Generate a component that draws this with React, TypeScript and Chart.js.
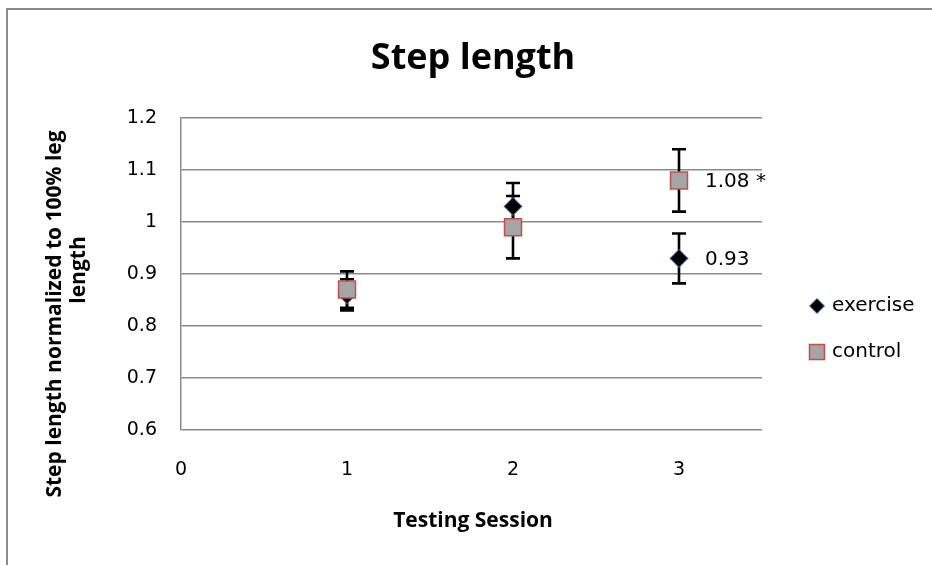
import React, { useEffect, useRef } from "react";
import { Chart, registerables } from "chart.js";

Chart.register(...registerables);

const chartTitle = "Step length";
const xAxisTitle = "Testing Session";
const yAxisTitleLines = ["Step length normalized to 100% leg", "length"];
const seriesNames = ["exercise", "control"];
const sessions = [1, 2, 3];
const exerciseMeans = [0.86, 1.03, 0.93];
const exerciseErrors = [0.03, 0.045, 0.048];
const controlMeans = [0.87, 0.99, 1.08];
const controlErrors = [0.035, 0.06, 0.06];
const exerciseLabels = ["", "", "0.93"];
const controlLabels = ["", "", "1.08 *"];
const xTicks = [0, 1, 2, 3];
const yTicks = [0.6, 0.7, 0.8, 0.9, 1, 1.1, 1.2];

const W = 932;
const H = 565;
const GRID = "#8a8a8a";
const TICK_FONT = "DejaVu Sans";
const BOLD_FONT = "Open Sans";

function drawDiamond(ctx: CanvasRenderingContext2D, x: number, y: number, r: number) {
  ctx.beginPath();
  ctx.moveTo(x, y - r);
  ctx.lineTo(x + r, y);
  ctx.lineTo(x, y + r);
  ctx.lineTo(x - r, y);
  ctx.closePath();
  ctx.fillStyle = "#000";
  ctx.fill();
  ctx.strokeStyle = "#4a7ebb";
  ctx.lineWidth = 1;
  ctx.stroke();
}

function drawSquare(ctx: CanvasRenderingContext2D, x: number, y: number, s: number) {
  ctx.fillStyle = "#a5a5a5";
  ctx.fillRect(x - s / 2, y - s / 2, s, s);
  ctx.strokeStyle = "#c0504d";
  ctx.lineWidth = 1.5;
  ctx.strokeRect(x - s / 2, y - s / 2, s, s);
}

const overlay = {
  id: "overlay",
  beforeDraw(chart: any) {
    const ctx = chart.ctx as CanvasRenderingContext2D;
    ctx.save();
    ctx.fillStyle = "#fff";
    ctx.fillRect(0, 0, W, H);
    ctx.strokeStyle = GRID;
    ctx.lineWidth = 2;
    ctx.beginPath();
    ctx.moveTo(7, H);
    ctx.lineTo(7, 9);
    ctx.lineTo(W, 9);
    ctx.stroke();
    ctx.restore();
  },
  beforeDatasetsDraw(chart: any) {
    const ctx = chart.ctx as CanvasRenderingContext2D;
    const yScale = chart.scales.y;
    chart.data.datasets.forEach((ds: any, di: number) => {
      const meta = chart.getDatasetMeta(di);
      meta.data.forEach((pt: any, i: number) => {
        const v = ds.data[i].y;
        const e = ds.errors[i];
        const top = yScale.getPixelForValue(v + e);
        const bot = yScale.getPixelForValue(v - e);
        ctx.save();
        ctx.strokeStyle = "#000";
        ctx.lineWidth = 2.6;
        ctx.beginPath();
        ctx.moveTo(pt.x, top);
        ctx.lineTo(pt.x, bot);
        ctx.moveTo(pt.x - 7, top);
        ctx.lineTo(pt.x + 7, top);
        ctx.moveTo(pt.x - 7, bot);
        ctx.lineTo(pt.x + 7, bot);
        ctx.stroke();
        ctx.restore();
      });
    });
  },
  afterDatasetsDraw(chart: any) {
    const ctx = chart.ctx as CanvasRenderingContext2D;
    ctx.save();
    // data labels
    ctx.fillStyle = "#000";
    ctx.font = `20px "${TICK_FONT}"`;
    ctx.textAlign = "left";
    ctx.textBaseline = "middle";
    chart.data.datasets.forEach((ds: any, di: number) => {
      const meta = chart.getDatasetMeta(di);
      meta.data.forEach((pt: any, i: number) => {
        const t = ds.pointLabels[i];
        if (t) ctx.fillText(t, pt.x + 26, pt.y + 1);
      });
    });
    // title
    ctx.font = `bold 36px "${BOLD_FONT}"`;
    ctx.textAlign = "center";
    ctx.textBaseline = "alphabetic";
    ctx.fillText(chartTitle, 473, 69);
    // x axis title
    ctx.font = `bold 21px "${BOLD_FONT}"`;
    ctx.textBaseline = "middle";
    ctx.fillText(xAxisTitle, 473, 521);
    // y axis title
    const lineX = [55, 79];
    const lineY = [314, 270];
    yAxisTitleLines.forEach((line, i) => {
      ctx.save();
      ctx.translate(lineX[i], lineY[i]);
      ctx.rotate(-Math.PI / 2);
      ctx.fillText(line, 0, 0);
      ctx.restore();
    });
    // legend
    ctx.font = `20px "${TICK_FONT}"`;
    ctx.textAlign = "left";
    ctx.textBaseline = "middle";
    const legendY = [306, 352];
    drawDiamond(ctx, 817, legendY[0], 7.5);
    drawSquare(ctx, 817, legendY[1], 15);
    ctx.fillStyle = "#000";
    ctx.fillText(seriesNames[0], 832, legendY[0]);
    ctx.fillText(seriesNames[1], 832, legendY[1]);
    ctx.restore();
  },
};

export default function App() {
  const ref = useRef<HTMLCanvasElement | null>(null);
  useEffect(() => {
    if (!ref.current) return;
    const chart = new Chart(ref.current, {
      type: "scatter",
      data: {
        datasets: [
          {
            label: seriesNames[0],
            data: sessions.map((s, i) => ({ x: s, y: exerciseMeans[i] })),
            errors: exerciseErrors,
            pointLabels: exerciseLabels,
            order: 1,
            pointStyle: "rectRot",
            pointRadius: 9,
            backgroundColor: "#000",
            borderColor: "#4a7ebb",
            borderWidth: 1,
          } as any,
          {
            label: seriesNames[1],
            data: sessions.map((s, i) => ({ x: s, y: controlMeans[i] })),
            errors: controlErrors,
            pointLabels: controlLabels,
            order: 0,
            pointStyle: "rect",
            pointRadius: 12,
            backgroundColor: "#a5a5a5",
            borderColor: "#c0504d",
            borderWidth: 1.5,
          } as any,
        ],
      },
      options: {
        responsive: false,
        animation: false,
        layout: { padding: { left: 0, top: 118, right: 170, bottom: 0 } },
        plugins: {
          legend: { display: false },
          title: { display: false },
          tooltip: { enabled: false },
        },
        scales: {
          x: {
            type: "linear",
            min: 0,
            max: 3.5,
            afterBuildTicks: (s: any) => {
              s.ticks = xTicks.map((v) => ({ value: v }));
            },
            afterFit: (s: any) => {
              s.height = 135;
            },
            grid: { display: false, drawTicks: false },
            border: { display: false },
            ticks: {
              padding: 29,
              color: "#000",
              font: { family: TICK_FONT, size: 19 },
              maxRotation: 0,
              callback: (v: any) => String(v),
            },
          },
          y: {
            type: "linear",
            min: 0.6,
            max: 1.2,
            afterBuildTicks: (s: any) => {
              s.ticks = yTicks.map((v) => ({ value: v }));
            },
            afterFit: (s: any) => {
              s.width = 181;
            },
            grid: { color: GRID, lineWidth: 1.5, drawTicks: false },
            border: { display: true, color: GRID, width: 1.5 },
            ticks: {
              padding: 24,
              color: "#000",
              font: { family: TICK_FONT, size: 19 },
              callback: (v: any) => String(parseFloat(Number(v).toFixed(1))),
            },
          },
        },
      } as any,
      plugins: [overlay],
    });
    return () => chart.destroy();
  }, []);
  return (
    <div style={{ position: "absolute", left: 0, top: 0, width: W, height: H, background: "#fff" }}>
      <canvas ref={ref} width={W} height={H} style={{ display: "block" }} />
    </div>
  );
}
